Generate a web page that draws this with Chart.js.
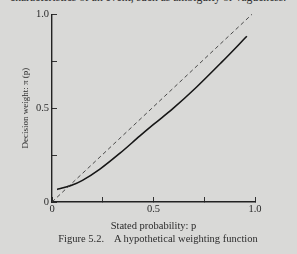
<!DOCTYPE html>
<html>
<head>
  <meta charset="utf-8" />
  <script src="https://cdn.jsdelivr.net/npm/chart.js@4.4.0/dist/chart.umd.min.js"></script>
  <style>
    body { margin:0; background:#d9d9d7; width:297px; height:254px; overflow:hidden; position:relative; font-family:'Liberation Serif',serif; color:#2c2c2c; }
    #topLine { position:absolute; left:10px; top:-9px; font-size:11.6px; white-space:nowrap; }
    #caption { position:absolute; left:0; width:316px; top:233px; text-align:center; font-size:10.5px; white-space:pre; }
    #chart { position:absolute; left:0; top:0; }
  </style>
</head>
<body>
  <div id="topLine">characteristics of an event, such as ambiguity or vagueness.</div>
  <canvas id="chart" width="297" height="254"></canvas>
  <div id="caption">Figure 5.2.    A hypothetical weighting function</div>

<script>
// stated probability p and decision weight pi(p)
const curveP  = [0.025, 0.06, 0.10, 0.15, 0.236, 0.335, 0.433, 0.50, 0.598, 0.71, 0.836, 0.96];
const curvePi = [0.067, 0.077, 0.09, 0.115, 0.175, 0.26, 0.352, 0.413, 0.50, 0.61, 0.745, 0.883];
// dashed identity line
const diagP  = [0, 0.985];
const diagPi = [0, 1.0];
const tickText = { 0: '0', 0.5: '0.5', 1: '1.0' };

const ink = '#2a2a2a';
const serif = 'Liberation Serif';

function pts(xs, ys) { return xs.map((x, i) => ({ x: x, y: ys[i] })); }
function tickLabel(v) { return tickText[v] !== undefined ? tickText[v] : ''; }

new Chart(document.getElementById('chart'), {
  type: 'line',
  data: { datasets: [
    { data: pts(diagP, diagPi), borderColor: '#3a3a3a', borderWidth: 0.9, borderDash: [4, 3], pointRadius: 0, clip: false },
    { data: pts(curveP, curvePi), borderColor: '#161616', borderWidth: 1.6, pointRadius: 0, cubicInterpolationMode: 'monotone', clip: false }
  ]},
  options: {
    responsive: false,
    animation: false,
    parsing: false,
    layout: { padding: { top: 12, right: 42, left: 0, bottom: 0 } },
    plugins: { legend: { display: false }, tooltip: { enabled: false } },
    scales: {
      x: {
        type: 'linear', min: 0, max: 1,
        afterFit: s => { s.height = 52; },
        ticks: { stepSize: 0.25, autoSkip: false, maxRotation: 0, padding: 6, color: ink, font: { family: serif, size: 10.5 }, callback: tickLabel },
        grid: { drawOnChartArea: false, tickLength: -5, color: '#333', lineWidth: 1 },
        border: { color: '#222', width: 1.4 },
        title: { display: true, text: 'Stated probability: p', color: ink, font: { family: serif, size: 10.5 }, padding: { top: 0, bottom: 21 } }
      },
      y: {
        type: 'linear', min: 0, max: 1,
        afterFit: s => { s.width = 52; },
        ticks: { stepSize: 0.25, autoSkip: false, padding: 8, color: ink, font: { family: serif, size: 10.5 }, callback: tickLabel },
        grid: { drawOnChartArea: false, tickLength: -5, color: '#333', lineWidth: 1 },
        border: { color: '#222', width: 1.4 },
        title: { display: true, text: 'Decision weight: π (p)', color: ink, font: { family: serif, size: 9 }, padding: { top: 20, bottom: 0 } }
      }
    }
  }
});
</script>
</body>
</html>
